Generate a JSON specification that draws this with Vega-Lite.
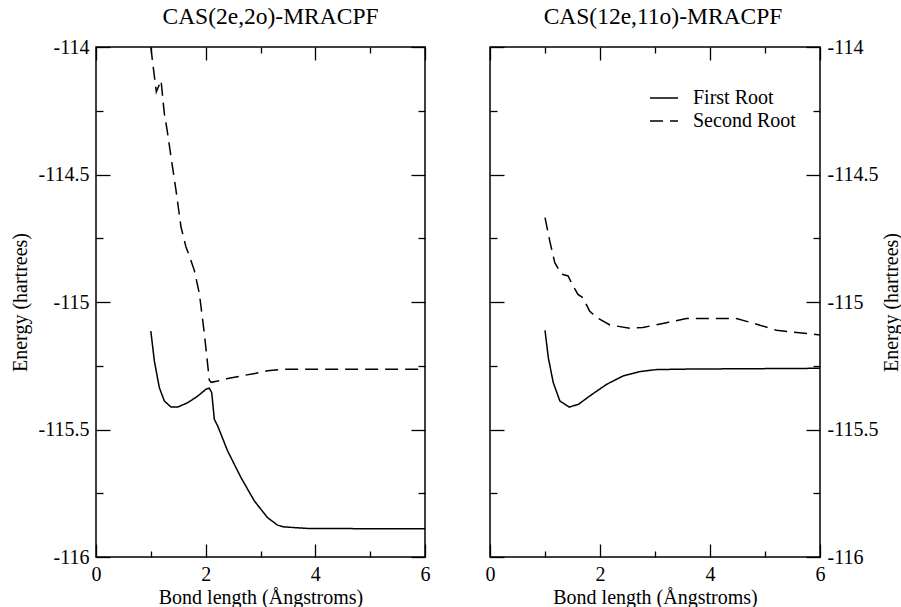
{
  "$schema": "https://vega.github.io/schema/vega-lite/v6.json",
  "background": "white",
  "padding": {"left": 9, "top": 3, "right": 0, "bottom": 0},
  "config": {
    "font": "Liberation Serif",
    "view": {"stroke": "black", "strokeWidth": 1.5},
    "axis": {
      "domain": false, "grid": false, "tickColor": "black", "tickWidth": 1.3, "labelFlush": false,
      "labelFont": "Liberation Serif", "labelFontSize": 20, "labelColor": "black",
      "titleFont": "Liberation Serif", "titleFontSize": 20, "titleFontWeight": "normal", "titleColor": "black"
    },
    "title": {"font": "Liberation Serif", "fontSize": 23.5, "fontWeight": "normal", "color": "black"},
    "legend": {"labelFont": "Liberation Serif", "labelFontSize": 20, "labelColor": "black"}
  },
  "datasets": {
    "left": [
      {"x": 1.0, "E": -114.0, "root": "Second Root"},
      {"x": 1.05, "E": -114.09, "root": "Second Root"},
      {"x": 1.10, "E": -114.176, "root": "Second Root"},
      {"x": 1.186, "E": -114.131, "root": "Second Root"},
      {"x": 1.246, "E": -114.261, "root": "Second Root"},
      {"x": 1.30, "E": -114.33, "root": "Second Root"},
      {"x": 1.368, "E": -114.431, "root": "Second Root"},
      {"x": 1.459, "E": -114.562, "root": "Second Root"},
      {"x": 1.55, "E": -114.706, "root": "Second Root"},
      {"x": 1.641, "E": -114.784, "root": "Second Root"},
      {"x": 1.72, "E": -114.83, "root": "Second Root"},
      {"x": 1.793, "E": -114.876, "root": "Second Root"},
      {"x": 1.885, "E": -114.967, "root": "Second Root"},
      {"x": 1.976, "E": -115.124, "root": "Second Root"},
      {"x": 2.067, "E": -115.307, "root": "Second Root"},
      {"x": 2.10, "E": -115.315, "root": "Second Root"},
      {"x": 2.219, "E": -115.31, "root": "Second Root"},
      {"x": 2.40, "E": -115.30, "root": "Second Root"},
      {"x": 2.645, "E": -115.29, "root": "Second Root"},
      {"x": 2.9, "E": -115.28, "root": "Second Root"},
      {"x": 3.13, "E": -115.27, "root": "Second Root"},
      {"x": 3.43, "E": -115.264, "root": "Second Root"},
      {"x": 4.0, "E": -115.264, "root": "Second Root"},
      {"x": 5.0, "E": -115.264, "root": "Second Root"},
      {"x": 6.0, "E": -115.264, "root": "Second Root"},
      {"x": 1.0, "E": -115.114, "root": "First Root"},
      {"x": 1.064, "E": -115.231, "root": "First Root"},
      {"x": 1.155, "E": -115.336, "root": "First Root"},
      {"x": 1.246, "E": -115.388, "root": "First Root"},
      {"x": 1.368, "E": -115.412, "root": "First Root"},
      {"x": 1.49, "E": -115.412, "root": "First Root"},
      {"x": 1.672, "E": -115.395, "root": "First Root"},
      {"x": 1.855, "E": -115.369, "root": "First Root"},
      {"x": 2.006, "E": -115.342, "root": "First Root"},
      {"x": 2.067, "E": -115.338, "root": "First Root"},
      {"x": 2.11, "E": -115.355, "root": "First Root"},
      {"x": 2.14, "E": -115.42, "root": "First Root"},
      {"x": 2.158, "E": -115.46, "root": "First Root"},
      {"x": 2.219, "E": -115.486, "root": "First Root"},
      {"x": 2.40, "E": -115.584, "root": "First Root"},
      {"x": 2.645, "E": -115.689, "root": "First Root"},
      {"x": 2.887, "E": -115.78, "root": "First Root"},
      {"x": 3.13, "E": -115.846, "root": "First Root"},
      {"x": 3.31, "E": -115.875, "root": "First Root"},
      {"x": 3.43, "E": -115.882, "root": "First Root"},
      {"x": 3.86, "E": -115.888, "root": "First Root"},
      {"x": 5.0, "E": -115.889, "root": "First Root"},
      {"x": 6.0, "E": -115.889, "root": "First Root"}
    ],
    "right": [
      {"x": 1.0, "E": -114.669, "root": "Second Root"},
      {"x": 1.087, "E": -114.761, "root": "Second Root"},
      {"x": 1.178, "E": -114.846, "root": "Second Root"},
      {"x": 1.30, "E": -114.891, "root": "Second Root"},
      {"x": 1.42, "E": -114.898, "root": "Second Root"},
      {"x": 1.51, "E": -114.937, "root": "Second Root"},
      {"x": 1.60, "E": -114.970, "root": "Second Root"},
      {"x": 1.69, "E": -114.983, "root": "Second Root"},
      {"x": 1.81, "E": -115.035, "root": "Second Root"},
      {"x": 1.94, "E": -115.061, "root": "Second Root"},
      {"x": 2.18, "E": -115.09, "root": "Second Root"},
      {"x": 2.54, "E": -115.103, "root": "Second Root"},
      {"x": 2.78, "E": -115.10, "root": "Second Root"},
      {"x": 3.21, "E": -115.081, "root": "Second Root"},
      {"x": 3.57, "E": -115.065, "root": "Second Root"},
      {"x": 4.0, "E": -115.065, "root": "Second Root"},
      {"x": 4.48, "E": -115.065, "root": "Second Root"},
      {"x": 4.85, "E": -115.087, "root": "Second Root"},
      {"x": 5.21, "E": -115.111, "root": "Second Root"},
      {"x": 5.58, "E": -115.12, "root": "Second Root"},
      {"x": 6.0, "E": -115.129, "root": "Second Root"},
      {"x": 1.0, "E": -115.111, "root": "First Root"},
      {"x": 1.06, "E": -115.218, "root": "First Root"},
      {"x": 1.15, "E": -115.316, "root": "First Root"},
      {"x": 1.27, "E": -115.388, "root": "First Root"},
      {"x": 1.44, "E": -115.412, "root": "First Root"},
      {"x": 1.61, "E": -115.401, "root": "First Root"},
      {"x": 1.81, "E": -115.369, "root": "First Root"},
      {"x": 2.12, "E": -115.323, "root": "First Root"},
      {"x": 2.42, "E": -115.29, "root": "First Root"},
      {"x": 2.72, "E": -115.273, "root": "First Root"},
      {"x": 3.03, "E": -115.265, "root": "First Root"},
      {"x": 3.63, "E": -115.263, "root": "First Root"},
      {"x": 6.0, "E": -115.26, "root": "First Root"}
    ]
  },
  "hconcat": [
    {
      "title": {"text": "CAS(2e,2o)-MRACPF", "offset": 9, "dx": 10},
      "width": 329, "height": 510,
      "data": {"name": "left"},
      "layer": [
        {
          "mark": {"type": "line", "color": "black", "strokeWidth": 1.5},
          "encoding": {
            "x": {"field": "x", "type": "quantitative", "scale": {"domain": [0, 6], "nice": false, "zero": false},
              "axis": {"orient": "bottom", "title": "Bond length (Ångstroms)", "values": [0, 1, 2, 3, 4, 5, 6],
                "labelExpr": "datum.value % 2 === 0 ? '' + datum.value : ''",
                "tickSize": {"condition": {"test": "datum.value % 2 !== 0", "value": -6}, "value": -13},
                "labelPadding": 20, "titlePadding": 3}},
            "y": {"field": "E", "type": "quantitative", "scale": {"domain": [-116, -114], "nice": false, "zero": false},
              "axis": {"orient": "left", "title": "Energy (hartrees)", "values": [-116, -115.75, -115.5, -115.25, -115, -114.75, -114.5, -114.25, -114],
                "labelExpr": "abs(datum.value * 2 - round(datum.value * 2)) < 0.001 ? '' + datum.value : ''",
                "tickSize": {"condition": {"test": "abs(datum.value * 2 - round(datum.value * 2)) > 0.001", "value": -7}, "value": -14},
                "labelPadding": 21, "titlePadding": 8}},
            "strokeDash": {"field": "root", "type": "nominal", "scale": {"domain": ["First Root", "Second Root"], "range": [[1, 0], [13, 7]]}, "legend": null},
            "order": {"field": "x", "type": "quantitative"}
          }
        },
        {
          "mark": {"type": "point", "opacity": 0, "size": 0},
          "encoding": {
            "x": {"field": "x", "type": "quantitative", "scale": {"domain": [0, 6], "nice": false, "zero": false},
              "axis": {"orient": "top", "title": null, "labels": false, "values": [0, 1, 2, 3, 4, 5, 6],
                "tickSize": {"condition": {"test": "datum.value % 2 !== 0", "value": -6}, "value": -13}}},
            "y": {"field": "E", "type": "quantitative", "scale": {"domain": [-116, -114], "nice": false, "zero": false},
              "axis": {"orient": "right", "title": null, "labels": false, "values": [-116, -115.75, -115.5, -115.25, -115, -114.75, -114.5, -114.25, -114],
                "tickSize": {"condition": {"test": "abs(datum.value * 2 - round(datum.value * 2)) > 0.001", "value": -7}, "value": -14}}}
          }
        }
      ],
      "resolve": {"axis": {"x": "independent", "y": "independent"}}
    },
    {
      "title": {"text": "CAS(12e,11o)-MRACPF", "offset": 9, "dx": 8},
      "width": 330, "height": 510,
      "data": {"name": "right"},
      "layer": [
        {
          "mark": {"type": "line", "color": "black", "strokeWidth": 1.5},
          "encoding": {
            "x": {"field": "x", "type": "quantitative", "scale": {"domain": [0, 6], "nice": false, "zero": false},
              "axis": {"orient": "bottom", "title": "Bond length (Ångstroms)", "values": [0, 1, 2, 3, 4, 5, 6],
                "labelExpr": "datum.value % 2 === 0 ? '' + datum.value : ''",
                "tickSize": {"condition": {"test": "datum.value % 2 !== 0", "value": -6}, "value": -13},
                "labelPadding": 20, "titlePadding": 3}},
            "y": {"field": "E", "type": "quantitative", "scale": {"domain": [-116, -114], "nice": false, "zero": false},
              "axis": {"orient": "right", "title": "Energy (hartrees)", "titleAngle": 270, "titleBaseline": "top", "values": [-116, -115.75, -115.5, -115.25, -115, -114.75, -114.5, -114.25, -114],
                "labelExpr": "abs(datum.value * 2 - round(datum.value * 2)) < 0.001 ? '' + datum.value : ''",
                "tickSize": {"condition": {"test": "abs(datum.value * 2 - round(datum.value * 2)) > 0.001", "value": -7}, "value": -14},
                "labelPadding": 21, "titlePadding": 4}},
            "strokeDash": {"field": "root", "type": "nominal", "scale": {"domain": ["First Root", "Second Root"], "range": [[1, 0], [13, 7]]},
              "legend": {"title": null, "orient": "none", "legendX": 164, "legendY": 41, "symbolType": "M-2,0H2", "symbolSize": 196, "symbolStrokeColor": "black", "symbolFillColor": "transparent", "symbolStrokeWidth": 1.5, "labelOffset": 19, "rowPadding": 3}},
            "order": {"field": "x", "type": "quantitative"}
          }
        },
        {
          "mark": {"type": "point", "opacity": 0, "size": 0},
          "encoding": {
            "x": {"field": "x", "type": "quantitative", "scale": {"domain": [0, 6], "nice": false, "zero": false},
              "axis": {"orient": "top", "title": null, "labels": false, "values": [0, 1, 2, 3, 4, 5, 6],
                "tickSize": {"condition": {"test": "datum.value % 2 !== 0", "value": -6}, "value": -13}}},
            "y": {"field": "E", "type": "quantitative", "scale": {"domain": [-116, -114], "nice": false, "zero": false},
              "axis": {"orient": "left", "title": null, "labels": false, "values": [-116, -115.75, -115.5, -115.25, -115, -114.75, -114.5, -114.25, -114],
                "tickSize": {"condition": {"test": "abs(datum.value * 2 - round(datum.value * 2)) > 0.001", "value": -7}, "value": -14}}}
          }
        }
      ],
      "resolve": {"axis": {"x": "independent", "y": "independent"}}
    }
  ],
  "resolve": {"scale": {"strokeDash": "independent"}, "legend": {"strokeDash": "independent"}},
  "spacing": 53
}
